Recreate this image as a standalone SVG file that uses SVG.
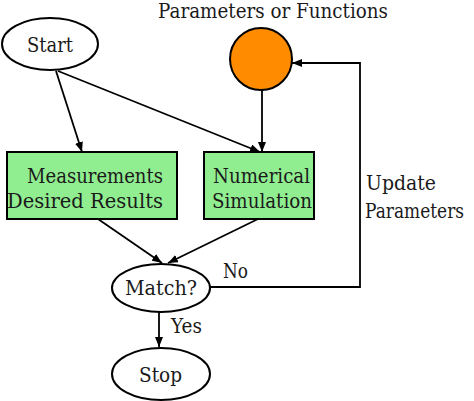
<svg xmlns="http://www.w3.org/2000/svg" width="474" height="401" viewBox="0 0 474 401">
<style>
text{font-family:'DejaVu Serif',serif;font-size:20px;fill:#1a1a1a}
.n{stroke:#000;stroke-width:2}
.e{stroke:#000;stroke-width:1.8;fill:none}
</style>
<defs>
<marker id="ah" markerWidth="10" markerHeight="8" refX="10" refY="4" orient="auto" markerUnits="userSpaceOnUse">
<path d="M0,0 L10,4 L0,8 Z" fill="#000"/>
</marker>
</defs>
<rect width="474" height="401" fill="#fff"/>
<text x="158" y="18" textLength="230" lengthAdjust="spacingAndGlyphs">Parameters or Functions</text>
<g id="connectors">
<line class="e" x1="56" y1="71" x2="82" y2="152" marker-end="url(#ah)"/>
<line class="e" x1="58" y1="71" x2="260" y2="152" marker-end="url(#ah)"/>
<line class="e" x1="262" y1="90" x2="262" y2="152" marker-end="url(#ah)"/>
<line class="e" x1="98" y1="219" x2="162" y2="263" marker-end="url(#ah)"/>
<line class="e" x1="258" y1="219" x2="168" y2="263" marker-end="url(#ah)"/>
<line class="e" x1="159" y1="312" x2="159" y2="347" marker-end="url(#ah)"/>
<polyline class="e" points="209,287 360,287 360,63 292,63" marker-end="url(#ah)"/>
<text x="223" y="278" textLength="25" lengthAdjust="spacingAndGlyphs">No</text>
<text x="171" y="333" textLength="31" lengthAdjust="spacingAndGlyphs">Yes</text>
<text x="366" y="190" textLength="70" lengthAdjust="spacingAndGlyphs">Update</text>
<text x="365" y="218" font-size="17" textLength="99" lengthAdjust="spacingAndGlyphs">Parameters</text>
</g>
<g id="start">
<ellipse class="n" cx="50" cy="44" rx="48" ry="26" fill="#fff"/>
<text x="27" y="52" textLength="46" lengthAdjust="spacingAndGlyphs">Start</text>
</g>
<g id="params">
<circle class="n" cx="261" cy="59" r="31" fill="#ff8c00"/>
</g>
<g id="measurements">
<rect class="n" x="7" y="152" width="170" height="67" fill="#90ee90"/>
<text x="27" y="183" textLength="136" lengthAdjust="spacingAndGlyphs">Measurements</text>
<text x="7" y="208" textLength="156" lengthAdjust="spacingAndGlyphs">Desired Results</text>
</g>
<g id="simulation">
<rect class="n" x="204" y="152" width="110" height="67" fill="#90ee90"/>
<text x="213" y="183" textLength="97" lengthAdjust="spacingAndGlyphs">Numerical</text>
<text x="212" y="208" textLength="100" lengthAdjust="spacingAndGlyphs">Simulation</text>
</g>
<g id="match">
<ellipse class="n" cx="161" cy="288" rx="49" ry="24" fill="#fff"/>
<text x="125" y="295" textLength="72" lengthAdjust="spacingAndGlyphs">Match?</text>
</g>
<g id="stop">
<ellipse class="n" cx="161" cy="374" rx="49" ry="26" fill="#fff"/>
<text x="139" y="382" textLength="43" lengthAdjust="spacingAndGlyphs">Stop</text>
</g>
</svg>
